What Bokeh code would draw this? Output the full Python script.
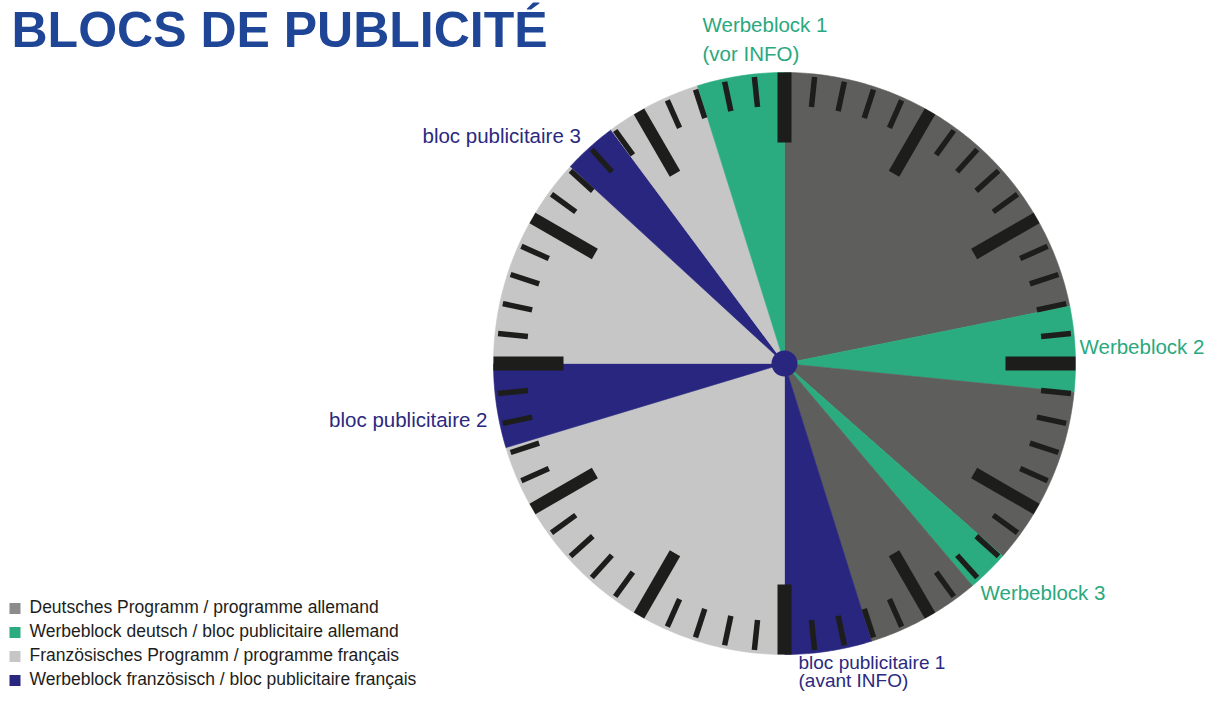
import numpy as np
from bokeh.plotting import figure
from bokeh.models import Range1d
from bokeh.embed import file_html
from bokeh.resources import INLINE
from bokeh.core.properties import value

# ---------------- data ----------------
# clock segments in minutes (clockwise from 12 o'clock)
segment_start_min = [0.0, 13.1, 15.95, 21.9, 23.3, 27.1, 30.0, 42.2, 45.0, 52.1, 53.9, 57.1]
segment_end_min = [13.1, 15.95, 21.9, 23.3, 27.1, 30.0, 42.2, 45.0, 52.1, 53.9, 57.1, 60.0]
segment_kind = ["de_prog", "de_ad", "de_prog", "de_ad", "de_prog", "fr_ad",
                "fr_prog", "fr_ad", "fr_prog", "fr_ad", "fr_prog", "de_ad"]

kind_colors = {"de_prog": "#5e5e5d", "de_ad": "#2aac80",
               "fr_prog": "#c6c6c6", "fr_ad": "#28267f"}

legend_kinds = ["de_prog", "de_ad", "fr_prog", "fr_ad"]
legend_colors = ["#8c8c8c", "#2aac80", "#c6c6c6", "#28267f"]
legend_labels = ["Deutsches Programm / programme allemand",
                 "Werbeblock deutsch / bloc publicitaire allemand",
                 "Französisches Programm / programme français",
                 "Werbeblock französisch / bloc publicitaire français"]

block_lines = ["Werbeblock 1", "(vor INFO)", "Werbeblock 2", "Werbeblock 3",
               "bloc publicitaire 1", "(avant INFO)", "bloc publicitaire 2",
               "bloc publicitaire 3"]
block_line_kind = ["de_ad", "de_ad", "de_ad", "de_ad", "fr_ad", "fr_ad", "fr_ad", "fr_ad"]

title_text = "BLOCS DE PUBLICITÉ"

minutes = list(range(60))

# ---------------- layout ----------------
W, H = 1206, 692
CX, CY, R = 784.0, 363.0, 291.0

p = figure(width=W, height=H, output_backend="svg", toolbar_location=None,
           x_range=Range1d(0, W), y_range=Range1d(H, 0),
           min_border=0, outline_line_color=None, background_fill_color="white",
           border_fill_color="white")
p.axis.visible = False
p.grid.visible = False


def pt(m, r):
    th = np.deg2rad(np.asarray(m) * 6.0)
    return CX + r * np.sin(th), CY - r * np.cos(th)


# pie segments
xs, ys, cols = [], [], []
for s, e, k in zip(segment_start_min, segment_end_min, segment_kind):
    ms = np.linspace(s, e, max(int((e - s) * 8), 2) + 1)
    ax, ay = pt(ms, R)
    xs.append([CX] + list(ax))
    ys.append([CY] + list(ay))
    cols.append(kind_colors[k])
p.patches(xs=xs, ys=ys, fill_color=cols, line_color=cols, line_width=0.6)

# clock ticks
tx0, ty0, tx1, ty1, tw = [], [], [], [], []
for m in minutes:
    if m % 15 == 0:
        r0, r1, w = R, R - 70, 14
    elif m % 5 == 0:
        r0, r1, w = R, R - 72, 12
    else:
        r0, r1, w = R - 3, R - 33, 5.5
    a, b = pt(m, r0)
    c, d = pt(m, r1)
    tx0.append(float(a)); ty0.append(float(b)); tx1.append(float(c)); ty1.append(float(d)); tw.append(w)
p.segment(x0=tx0, y0=ty0, x1=tx1, y1=ty1, line_width=tw, line_color="#1d1d1b",
          line_cap="butt")

# center dot
p.scatter(x=[CX], y=[CY], size=26, fill_color="#28267f", line_color=None)

# block labels
lab_x = [702, 702, 1079, 980, 798, 798, 487, 422]
lab_y = [23.5, 52.5, 346, 592, 662, 680, 419, 135]
lab_size = ["20.5px", "20.5px", "20.5px", "20.5px", "19px", "19px", "20.5px", "20.5px"]
lab_align = ["left", "left", "left", "left", "left", "left", "right", "left"]
lab_col = ["#2aa87e" if k == "de_ad" else "#2b2a80" for k in block_line_kind]
p.text(x=lab_x, y=lab_y, text=block_lines, text_align=lab_align,
       text_baseline="middle", text_color=lab_col,
       text_font=value("Liberation Sans"), text_font_size=lab_size)

# legend
leg_y = [606 + 24 * i for i in range(len(legend_labels))]
p.rect(x=[14.5] * 4, y=[v + 2 for v in leg_y], width=11, height=11,
       fill_color=legend_colors, line_color=None)
p.text(x=[29] * 4, y=leg_y, text=legend_labels,
       text_align="left", text_baseline="middle", text_color="#1d1d1b",
       text_font=value("Liberation Sans"), text_font_size="17.5px")

# title (kept fully visible at the top left)
p.text(x=[11], y=[29], text=[title_text], text_align="left",
       text_baseline="middle", text_color="#1f4597",
       text_font=value("Liberation Sans"), text_font_style="bold",
       text_font_size="50px")

open("out.html", "w").write(file_html(p, INLINE))
